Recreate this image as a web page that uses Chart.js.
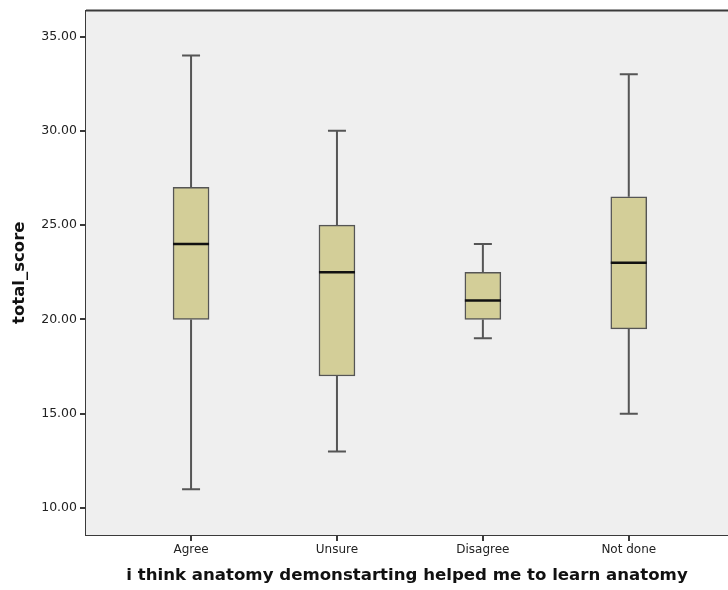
<!DOCTYPE html>
<html>
<head>
<meta charset="utf-8">
<script src="https://cdn.jsdelivr.net/npm/chart.js@4.4.1/dist/chart.umd.min.js"></script>
<style>
    body { margin: 0; background: #ffffff; }
    #wrap { width: 728px; height: 590px; }
</style>
</head>
<body>
<div id="wrap"><canvas id="boxChart"></canvas></div>
<script>
// カテゴリと箱ひげ図の値
const categories = ['Agree', 'Unsure', 'Disagree', 'Not done'];
const minValues    = [11, 13, 19, 15];
const q1Values     = [20, 17, 20, 19.5];
const medianValues = [24, 22.5, 21, 23];
const q3Values     = [27, 25, 22.5, 26.5];
const maxValues    = [34, 30, 24, 33];
const yTicks       = [10, 15, 20, 25, 30, 35];

// 背景・ひげ・中央値を描くプラグイン
const boxPlotPlugin = {
    id: 'boxPlotPlugin',
    beforeDatasetsDraw(chart) {
        const ctx = chart.ctx;
        const a = chart.chartArea;
        ctx.save();
        ctx.fillStyle = '#efefef';
        ctx.fillRect(a.left, a.top, a.right - a.left, a.bottom - a.top);

        // ひげ
        const x = chart.scales.x;
        const y = chart.scales.y;
        const capHalf = 9;
        ctx.strokeStyle = '#555555';
        ctx.lineWidth = 2;
        categories.forEach(function(c, i) {
            const px = x.getPixelForValue(i);
            ctx.beginPath();
            ctx.moveTo(px, y.getPixelForValue(minValues[i]));
            ctx.lineTo(px, y.getPixelForValue(q1Values[i]));
            ctx.moveTo(px, y.getPixelForValue(q3Values[i]));
            ctx.lineTo(px, y.getPixelForValue(maxValues[i]));
            ctx.moveTo(px - capHalf, y.getPixelForValue(minValues[i]));
            ctx.lineTo(px + capHalf, y.getPixelForValue(minValues[i]));
            ctx.moveTo(px - capHalf, y.getPixelForValue(maxValues[i]));
            ctx.lineTo(px + capHalf, y.getPixelForValue(maxValues[i]));
            ctx.stroke();
        });
        ctx.restore();
    },
    afterDatasetsDraw(chart) {
        const ctx = chart.ctx;
        const a = chart.chartArea;
        const x = chart.scales.x;
        const y = chart.scales.y;
        const half = 18;
        ctx.save();
        // 中央値
        ctx.strokeStyle = '#111111';
        ctx.lineWidth = 2.5;
        categories.forEach(function(c, i) {
            const px = x.getPixelForValue(i);
            const py = y.getPixelForValue(medianValues[i]);
            ctx.beginPath();
            ctx.moveTo(px - half, py);
            ctx.lineTo(px + half, py);
            ctx.stroke();
        });
        // 上の枠線
        ctx.strokeStyle = '#3a3a3a';
        ctx.lineWidth = 2;
        ctx.beginPath();
        ctx.moveTo(a.left, a.top);
        ctx.lineTo(a.right, a.top);
        ctx.stroke();
        ctx.restore();
    }
};

const boxData = categories.map(function(c, i) {
    return { x: i, y: [q1Values[i], q3Values[i]] };
});

const ctx = document.getElementById('boxChart').getContext('2d');
new Chart(ctx, {
    type: 'bar',
    data: {
        datasets: [{
            data: boxData,
            backgroundColor: '#d3ce98',
            borderColor: '#555555',
            borderWidth: 1.5,
            borderSkipped: false,
            barThickness: 36
        }]
    },
    plugins: [boxPlotPlugin],
    options: {
        responsive: true,
        maintainAspectRatio: false,
        animation: false,
        layout: { padding: { top: 10, right: 0, left: 0, bottom: 0 } },
        plugins: {
            legend: { display: false },
            tooltip: { enabled: false }
        },
        scales: {
            x: {
                type: 'linear',
                offset: false,
                min: -0.72,
                max: 3.68,
                afterBuildTicks: function(scale) {
                    scale.ticks = categories.map(function(c, i) { return { value: i }; });
                },
                afterFit: function(scale) { scale.height = 55; },
                ticks: {
                    callback: function(v) { return categories[v]; },
                    color: '#222222',
                    font: { family: 'DejaVu Sans', size: 12 },
                    padding: 2,
                    maxRotation: 0
                },
                grid: { offset: false, drawOnChartArea: false, tickLength: 6, color: '#3a3a3a', lineWidth: 2 },
                border: { color: '#3a3a3a', width: 2 },
                title: {
                    display: true,
                    text: 'i think anatomy demonstarting helped me to learn anatomy',
                    color: '#111111',
                    font: { family: 'DejaVu Sans', size: 16.6, weight: 'bold' },
                    padding: { top: 0, bottom: 4 }
                }
            },
            y: {
                min: 8.57,
                max: 36.38,
                afterBuildTicks: function(scale) {
                    scale.ticks = yTicks.map(function(v) { return { value: v }; });
                },
                afterFit: function(scale) { scale.width = 86; },
                ticks: {
                    callback: function(v) { return v.toFixed(2); },
                    color: '#222222',
                    font: { family: 'DejaVu Sans', size: 12.5 },
                    padding: 3
                },
                grid: { drawOnChartArea: false, tickLength: 6, color: '#3a3a3a', lineWidth: 2 },
                border: { color: '#3a3a3a', width: 2 },
                title: {
                    display: true,
                    text: 'total_score',
                    color: '#111111',
                    font: { family: 'DejaVu Sans', size: 16.5, weight: 'bold' },
                    padding: { top: 10, bottom: 0 }
                }
            }
        }
    }
});
</script>
</body>
</html>
